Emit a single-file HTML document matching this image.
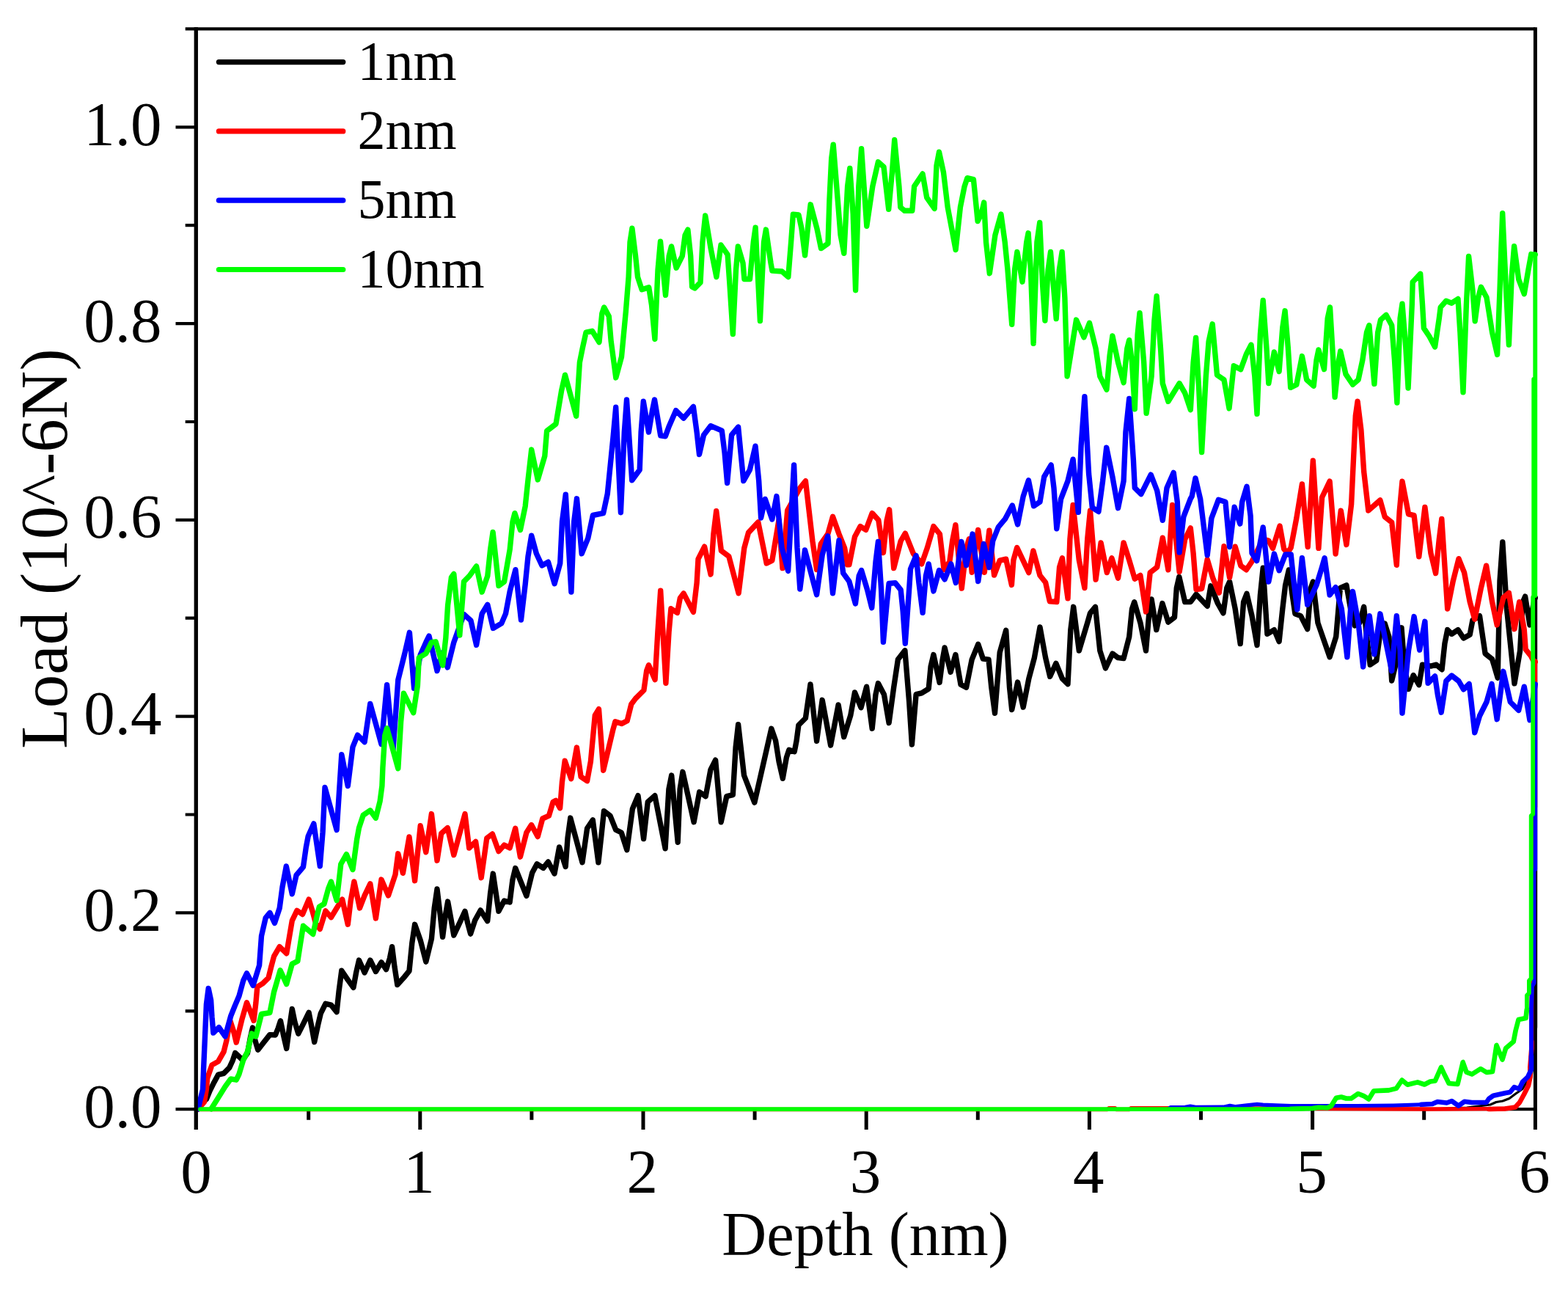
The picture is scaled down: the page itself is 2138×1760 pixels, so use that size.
<!DOCTYPE html>
<html lang="en">
<head>
<meta charset="utf-8">
<title>Load vs Depth</title>
<style>
html,body{margin:0;padding:0;background:#fff;}
body{width:2138px;height:1760px;overflow:hidden;}
svg{display:block;}
text{font-family:"Liberation Serif",serif;fill:#000;}
.tk{font-size:85px;}
.lg{font-size:76px;}
.ax{stroke:#000;fill:none;stroke-linecap:butt;}
.cv{fill:none;stroke-width:7.4;stroke-linejoin:round;stroke-linecap:round;}
.cu{fill:none;stroke-linejoin:round;stroke-linecap:round;}
.ll{fill:none;stroke-width:7.2;stroke-linecap:round;}
</style>
</head>
<body>
<svg width="2138" height="1760" viewBox="0 0 2138 1760">
<rect x="0" y="0" width="2138" height="1760" fill="#ffffff"/>
<g id="axes">
<path class="ax" stroke-width="5.0" d="M267.3 37.3V1514.3M2093.4 37.3V1514.3"/>
<path class="ax" stroke-width="4.2" d="M267.3 39.4H2093.4M267.3 1512.2H2093.4"/>
<path class="ax" stroke-width="4.2" d="M267.3 1512.2h-27.8M267.3 1378.3h-14.6M267.3 1244.4h-27.8M267.3 1110.5h-14.6M267.3 976.6h-27.8M267.3 842.7h-14.6M267.3 708.9h-27.8M267.3 575.0h-14.6M267.3 441.1h-27.8M267.3 307.2h-14.6M267.3 173.3h-27.8M267.3 39.4h-14.6"/>
<path class="ax" stroke-width="5.0" d="M267.3 1512.2v27.8M420.7 1512.2v14.6M572.8 1512.2v27.8M724.9 1512.2v14.6M877.0 1512.2v27.8M1029.1 1512.2v14.6M1181.2 1512.2v27.8M1333.3 1512.2v14.6M1485.4 1512.2v27.8M1637.5 1512.2v14.6M1789.6 1512.2v27.8M1941.7 1512.2v14.6M2093.4 1512.2v27.8"/>
</g>
<g id="curves">
<path class="cv" stroke="#000000" d="M270.2 1511.8 274.7 1504.2 281.4 1498.5 286.1 1487.1 291.8 1475.7 297.5 1465.2 305.1 1463.3 312.7 1455.7 317.5 1445.2 320.7 1435.4 326.0 1440.5 330.8 1445.2 337.5 1435.7 341.3 1414.8 344.5 1401.0 347.9 1418.6 351.7 1431.3 359.3 1421.5 367.9 1410.6 375.5 1411.0 379.3 1401.5 382.5 1391.7 386.9 1412.9 390.7 1429.4 394.5 1401.5 398.3 1375.5 402.1 1393.9 406.8 1409.1 413.5 1395.8 421.1 1380.3 424.9 1399.6 428.7 1420.5 433.5 1397.7 437.3 1381.6 443.9 1368.3 451.5 1370.2 459.1 1379.6 462.0 1352.1 465.8 1323.2 474.3 1335.9 481.9 1346.3 485.7 1325.5 489.5 1309.0 497.1 1326.0 504.8 1309.0 512.4 1324.5 520.0 1311.8 526.6 1321.6 531.4 1306.5 534.6 1290.7 538.0 1317.9 541.8 1342.5 550.4 1333.1 558.0 1323.6 561.8 1285.6 565.6 1260.3 573.2 1281.7 580.8 1311.2 588.4 1279.8 592.2 1238.0 596.0 1212.0 599.8 1243.7 603.6 1277.3 607.4 1247.5 610.6 1229.1 615.0 1253.2 618.8 1275.0 626.4 1258.9 634.0 1242.4 637.8 1258.9 641.6 1273.1 647.6 1254.8 655.2 1240.9 664.7 1255.7 668.5 1218.6 672.3 1191.1 679.9 1242.3 687.5 1228.1 695.1 1230.0 698.9 1199.6 702.7 1183.5 717.9 1221.4 725.6 1190.1 732.2 1177.8 740.8 1183.4 747.4 1175.0 756.0 1191.0 762.6 1155.0 771.2 1181.5 774.0 1142.6 777.8 1115.1 794.0 1175.8 800.6 1129.3 808.3 1117.9 815.9 1175.8 820.6 1133.1 823.5 1105.6 832.0 1112.2 839.6 1131.2 847.2 1135.0 854.8 1158.7 862.4 1102.7 870.0 1084.7 877.6 1143.5 883.3 1093.2 892.9 1084.7 907.1 1156.8 911.9 1076.0 915.7 1057.1 924.2 1148.2 927.1 1076.0 930.9 1052.3 946.1 1120.7 953.7 1079.8 962.2 1085.6 968.9 1049.4 975.6 1036.2 983.2 1120.7 990.8 1085.6 999.3 1083.7 1003.1 1019.0 1006.6 987.6 1014.5 1057.0 1028.8 1094.1 1051.8 993.3 1057.6 1009.8 1062.1 1038.4 1067.3 1061.3 1072.4 1032.7 1075.8 1022.4 1083.2 1024.7 1086.1 1009.8 1088.9 988.5 1098.4 979.0 1105.0 933.0 1113.6 1010.3 1121.2 954.3 1132.6 1016.0 1143.1 961.0 1150.7 1004.6 1159.8 975.2 1165.5 943.9 1174.0 964.7 1181.6 936.2 1189.2 993.2 1194.0 946.7 1197.4 931.5 1205.4 946.7 1212.1 985.6 1218.7 937.1 1224.4 899.1 1233.9 886.8 1239.6 956.2 1243.4 1015.0 1249.1 946.7 1256.7 944.8 1266.2 939.0 1269.1 908.6 1272.9 892.5 1281.1 930.4 1285.2 899.1 1288.1 883.0 1296.1 916.2 1302.9 892.5 1310.0 933.3 1317.6 937.1 1325.2 899.1 1333.7 878.3 1340.4 898.2 1348.0 899.1 1351.8 937.1 1356.5 972.3 1363.2 889.6 1371.7 859.3 1376.5 937.1 1379.7 967.5 1387.6 930.0 1395.2 964.1 1402.8 925.2 1410.4 896.7 1418.0 854.9 1425.6 896.7 1431.7 922.3 1439.9 904.3 1448.4 925.2 1456.0 932.7 1459.8 858.6 1463.7 827.3 1471.3 887.1 1482.7 849.1 1486.5 835.8 1493.5 827.3 1499.8 887.1 1507.4 910.9 1516.9 891.0 1524.5 896.7 1532.1 897.6 1539.7 868.1 1543.5 830.1 1546.7 820.7 1554.9 849.1 1562.5 887.1 1567.3 830.1 1570.1 816.9 1576.8 858.6 1584.9 822.6 1592.9 848.1 1601.5 841.5 1604.3 801.6 1607.8 786.4 1615.7 820.6 1623.3 820.6 1631.0 810.2 1646.2 826.3 1650.9 798.8 1660.4 822.5 1668.0 835.8 1672.8 801.6 1676.6 793.1 1684.2 830.1 1691.2 877.6 1695.6 820.6 1700.0 809.3 1707.0 839.6 1714.0 879.5 1718.4 811.1 1722.2 774.1 1727.9 864.3 1737.4 858.6 1744.1 874.7 1748.8 830.1 1752.6 797.8 1757.4 776.9 1762.1 811.1 1765.9 836.8 1773.5 839.6 1782.7 857.6 1787.4 801.6 1790.3 793.1 1796.9 849.1 1813.1 895.7 1821.7 868.1 1827.4 801.6 1835.9 797.8 1841.6 830.1 1847.3 852.9 1854.0 849.1 1859.7 827.3 1863.5 868.1 1868.2 906.2 1876.8 900.5 1882.5 858.6 1888.2 850.1 1893.9 868.1 1897.7 928.0 1905.3 896.7 1911.0 855.8 1914.8 906.2 1920.5 939.4 1927.2 920.5 1934.8 933.7 1939.5 906.2 1950.9 908.1 1958.5 906.2 1966.1 912.8 1969.9 877.6 1973.7 858.6 1979.4 864.3 1988.0 858.6 1995.6 870.0 2004.2 865.3 2008.0 845.3 2017.5 839.6 2025.1 891.0 2034.6 898.6 2042.2 924.2 2045.0 792.1 2048.8 738.9 2054.5 830.1 2065.0 931.8 2072.6 887.1 2076.4 820.6 2079.6 813.1 2085.9 851.9 2089.7 830.1 2092.6 814.9 2093.3 815.0"/>
<path class="cu" stroke="#000000" stroke-width="5.8" d="M2093.3 815.0 2093.3 1400.0 2090.0 1440.0 2087.0 1466.0"/>
<path class="cu" stroke="#000000" stroke-width="3.2" d="M2087.0 1466.0 2076.0 1484.5 2066.0 1491.5 2058.0 1497.5 2049.0 1501.0 2040.0 1502.5 2032.0 1506.0 2000.0 1510.0 1950.0 1512.0 273.0 1512.5"/>
<path class="cv" stroke="#ff0000" d="M270.2 1511.8 278.5 1502.3 281.4 1485.2 282.7 1470.0 289.0 1451.9 297.5 1447.1 305.1 1433.8 308.9 1418.6 313.7 1391.1 318.4 1405.3 322.2 1421.1 329.8 1390.1 336.5 1366.8 341.3 1378.7 346.0 1391.4 348.9 1367.3 350.8 1345.4 358.4 1340.7 366.0 1333.1 369.8 1317.9 373.6 1303.6 381.2 1290.7 390.7 1299.8 395.4 1272.2 398.3 1255.1 404.9 1241.3 412.5 1246.5 421.1 1226.1 425.9 1241.8 430.6 1258.9 436.3 1266.5 443.9 1241.9 451.5 1250.7 459.1 1238.0 466.7 1226.1 474.3 1260.2 478.1 1228.5 482.9 1202.0 490.5 1238.0 497.1 1220.9 504.8 1204.8 512.4 1251.9 520.0 1199.1 529.5 1220.9 539.0 1192.4 542.8 1163.8 549.4 1190.3 558.0 1141.0 565.6 1200.7 573.2 1125.8 580.8 1161.8 588.4 1109.6 596.0 1173.2 601.7 1136.2 610.3 1128.6 618.8 1165.6 634.0 1109.6 639.7 1156.1 648.6 1147.4 656.2 1196.7 663.8 1142.6 671.4 1136.9 679.9 1160.6 687.5 1152.1 695.1 1155.9 702.7 1129.3 709.4 1168.2 717.9 1135.0 724.6 1124.6 733.2 1140.6 739.8 1116.0 748.4 1112.2 754.1 1093.2 757.9 1091.3 763.6 1101.7 766.4 1066.5 770.2 1037.1 778.8 1061.7 786.4 1019.1 792.1 1058.9 800.6 1064.6 805.4 1038.0 811.3 975.2 816.5 966.7 822.7 1050.2 836.0 994.2 838.9 983.7 847.5 986.6 855.1 982.8 860.8 960.0 866.5 952.4 877.9 941.0 881.7 914.3 884.5 906.8 893.1 926.6 896.9 861.1 900.7 805.1 907.9 931.4 912.1 861.1 914.9 829.8 923.5 835.4 927.3 815.5 932.1 808.9 945.4 834.4 950.1 794.6 952.0 762.2 960.6 745.2 969.1 783.1 972.9 728.0 976.7 696.7 983.4 750.8 993.8 758.4 1007.1 808.8 1014.8 747.0 1020.5 726.1 1033.8 711.9 1045.2 767.9 1052.8 764.1 1062.0 709.0 1067.0 774.6 1073.7 695.7 1090.8 665.2 1098.4 655.7 1107.9 737.5 1113.6 776.5 1119.3 741.3 1128.8 728.0 1135.5 704.3 1144.0 728.0 1151.6 747.0 1155.4 769.8 1157.9 769.8 1165.5 731.8 1173.1 717.6 1180.7 722.3 1189.2 699.6 1197.8 709.0 1204.4 753.6 1209.2 709.0 1212.6 694.8 1218.7 774.6 1228.2 737.5 1234.3 727.1 1245.3 754.6 1256.7 768.8 1264.3 747.0 1272.9 717.6 1281.4 728.0 1287.1 776.5 1294.8 766.0 1298.6 737.5 1302.9 715.7 1311.3 802.1 1317.6 747.0 1321.4 734.7 1325.2 780.3 1333.7 722.4 1342.3 780.3 1348.9 723.3 1355.6 784.1 1363.2 764.1 1371.7 762.2 1379.4 797.4 1381.9 763.6 1386.7 746.5 1402.8 780.6 1408.9 750.9 1418.0 784.5 1425.6 794.0 1431.3 819.7 1440.8 820.6 1444.6 773.1 1448.4 760.8 1456.0 815.8 1458.9 735.1 1463.1 688.5 1471.3 763.6 1478.9 801.5 1482.7 735.1 1486.5 696.1 1494.1 790.1 1501.1 739.9 1509.3 780.6 1515.9 760.8 1524.5 788.2 1532.1 739.9 1539.7 763.6 1547.3 789.2 1554.9 784.5 1562.5 833.9 1568.2 780.7 1577.7 773.1 1585.3 733.2 1592.9 776.8 1598.6 688.5 1608.1 779.7 1615.7 735.1 1623.3 719.9 1627.1 754.1 1631.0 803.5 1638.6 802.5 1646.2 762.7 1653.8 788.3 1662.3 808.2 1669.0 744.6 1676.6 787.3 1684.2 745.2 1691.8 771.2 1699.4 776.8 1707.0 765.5 1714.6 750.3 1722.2 735.1 1729.8 737.0 1735.5 747.4 1745.0 717.0 1750.7 748.4 1755.5 754.1 1760.2 746.5 1767.8 706.5 1775.4 660.0 1783.2 745.5 1787.4 678.0 1790.3 628.0 1797.9 747.4 1802.6 678.0 1813.1 656.2 1821.1 755.0 1828.3 696.1 1835.9 742.6 1842.6 687.5 1848.3 567.1 1851.1 547.2 1855.9 586.2 1859.7 643.2 1865.8 696.0 1881.9 681.9 1888.2 704.6 1897.7 712.2 1904.3 770.2 1908.2 697.0 1912.0 656.2 1920.5 700.8 1928.1 702.7 1934.8 758.8 1942.9 691.4 1950.9 754.1 1957.6 781.6 1962.3 735.1 1965.8 707.5 1973.7 830.1 1981.3 792.1 1989.0 761.7 1996.6 780.7 2004.2 820.6 2010.8 844.3 2019.4 801.6 2026.6 771.2 2034.6 820.6 2041.2 851.9 2049.8 814.9 2057.4 808.3 2065.0 857.6 2071.7 820.7 2078.3 858.6 2080.2 885.2 2087.8 894.8 2091.6 902.4 2093.3 902.0"/>
<path class="cu" stroke="#ff0000" stroke-width="5.8" d="M2093.3 902.0 2093.3 1100.0 2091.0 1103.0 2091.0 1300.0 2088.5 1304.0 2088.3 1430.0"/>
<path class="cu" stroke="#ff0000" stroke-width="6.6" d="M2088.3 1420.0 2088.3 1430.0 2086.3 1455.0 2086.6 1468.0 2084.0 1480.0 2078.0 1492.0 2072.0 1503.0 2066.0 1509.5 2052.0 1511.5 2030.0 1512.0"/>
<path class="cu" stroke="#ff0000" stroke-width="5.4" d="M2052.0 1511.5 1950.0 1512.0 1600.0 1510.6 1542.0 1510.6 1540.0 1512.5 1522.0 1512.5 1520.4 1510.6 1512.0 1510.6 1510.0 1512.5 273.0 1512.5"/>
<path class="cv" stroke="#0000ff" d="M270.2 1511.8 272.8 1500.4 276.6 1485.2 277.6 1456.7 279.5 1412.9 281.4 1369.2 284.2 1347.4 287.6 1363.5 289.0 1386.3 290.9 1408.1 298.5 1400.6 307.0 1412.9 314.6 1385.4 320.3 1371.1 326.0 1357.8 331.7 1336.9 336.5 1326.9 345.1 1343.5 353.6 1316.0 356.5 1276.0 362.2 1251.3 367.9 1244.3 374.5 1258.3 381.2 1238.0 385.0 1209.5 390.3 1180.9 398.3 1218.8 404.0 1193.2 413.5 1181.8 417.3 1155.2 420.2 1140.0 427.8 1122.9 436.3 1180.8 440.1 1134.3 443.0 1073.5 459.1 1131.4 465.8 1028.8 474.3 1071.5 481.0 1018.3 487.6 1002.2 497.1 1011.6 504.8 959.4 520.0 1014.4 527.6 933.7 536.1 1021.1 542.8 927.0 552.3 889.0 558.4 862.3 564.6 938.4 573.2 892.8 580.8 875.7 585.0 867.0 596.0 914.6 602.7 890.0 610.3 909.9 618.8 875.7 632.5 837.6 642.0 846.1 649.6 879.3 657.2 836.6 664.8 824.3 672.4 856.5 683.8 849.9 689.5 836.6 695.2 806.2 702.9 776.7 710.5 845.1 716.2 796.7 720.0 758.6 724.7 730.2 731.4 754.8 739.0 771.0 747.5 766.2 756.1 795.7 763.7 768.1 766.5 711.1 771.3 674.1 778.9 807.1 782.7 711.1 786.5 679.8 793.2 754.8 801.7 733.9 808.4 702.5 822.6 699.7 828.3 673.1 832.1 635.1 835.9 597.0 839.7 555.3 846.4 698.7 851.3 589.1 854.5 544.9 861.7 654.7 872.2 640.5 874.1 589.1 877.3 547.3 884.5 589.1 889.3 560.6 892.5 544.9 900.7 593.9 907.3 594.8 912.1 581.5 921.6 559.7 932.1 570.1 945.4 554.4 950.1 589.1 953.5 619.5 959.6 592.9 969.1 580.6 984.3 587.2 988.1 617.6 991.6 658.5 997.6 592.9 1006.6 582.1 1011.0 627.1 1013.8 655.6 1022.4 640.5 1030.0 608.2 1034.7 655.7 1037.6 706.0 1043.3 680.4 1052.8 708.0 1058.9 676.6 1066.1 747.0 1074.6 778.4 1082.6 633.9 1087.0 747.0 1090.8 803.1 1097.5 749.9 1113.6 810.7 1121.2 756.5 1128.8 730.9 1135.5 808.8 1144.0 736.6 1149.7 781.3 1157.9 792.7 1166.4 823.0 1171.2 785.1 1174.6 777.5 1182.6 804.1 1188.7 828.7 1194.0 766.0 1197.4 738.5 1201.6 804.1 1204.4 875.3 1209.2 823.1 1212.1 795.5 1220.6 794.6 1228.2 804.1 1231.1 832.6 1234.3 877.2 1239.6 804.1 1241.5 775.6 1249.1 757.5 1252.9 794.6 1258.1 835.4 1262.4 785.1 1266.2 768.9 1272.9 805.9 1280.5 777.5 1288.1 789.8 1296.7 768.9 1303.3 794.5 1308.1 756.5 1310.9 738.5 1317.6 770.7 1326.1 728.1 1333.7 792.6 1341.3 741.4 1348.9 773.6 1353.7 737.5 1361.3 718.5 1370.8 707.1 1380.3 689.1 1387.6 715.0 1395.2 676.6 1402.4 654.8 1409.5 689.8 1418.0 684.2 1423.7 650.0 1433.2 633.9 1437.0 665.2 1440.8 720.7 1446.5 680.4 1456.0 655.7 1463.1 626.2 1470.3 698.4 1474.1 608.1 1478.9 540.7 1484.6 646.2 1489.3 691.8 1497.9 697.5 1503.6 655.7 1508.7 610.1 1516.9 650.0 1524.5 692.7 1532.1 655.7 1534.9 589.1 1539.7 543.5 1545.4 627.1 1547.3 665.2 1555.9 673.7 1569.2 647.2 1577.7 669.0 1585.3 709.3 1591.0 665.2 1600.2 644.3 1605.3 684.2 1608.1 753.1 1613.8 704.6 1623.3 679.9 1625.2 676.6 1630.0 651.9 1636.7 680.4 1646.2 756.9 1651.9 706.5 1661.4 681.3 1670.9 684.2 1676.6 745.5 1683.2 691.8 1683.2 691.3 1690.8 714.1 1693.7 684.2 1700.0 663.3 1705.1 703.2 1707.0 754.1 1713.7 764.5 1722.2 718.9 1729.8 793.0 1737.4 755.1 1744.1 777.8 1752.6 756.0 1760.2 756.0 1764.0 792.1 1768.8 831.0 1775.4 760.8 1782.7 824.4 1795.0 797.8 1802.6 773.1 1806.1 760.8 1813.1 811.1 1821.1 800.7 1829.3 830.1 1836.9 895.7 1841.6 830.1 1844.5 806.4 1852.1 849.1 1858.7 909.0 1863.5 858.6 1867.3 839.7 1873.9 891.9 1881.9 836.8 1890.1 877.6 1897.7 914.7 1904.3 839.7 1909.1 887.1 1912.0 972.2 1920.5 887.1 1928.1 840.6 1935.7 886.1 1942.9 847.3 1947.1 931.3 1956.6 921.9 1960.4 947.5 1965.2 971.2 1971.8 928.5 1979.4 921.0 1989.0 928.5 1995.6 939.9 2003.2 932.4 2006.1 957.0 2010.8 998.8 2017.5 976.0 2027.0 957.0 2034.0 932.4 2041.2 980.7 2049.8 915.3 2059.3 957.0 2070.7 968.4 2078.3 936.2 2085.9 981.7 2093.3 933.0"/>
<path class="cu" stroke="#0000ff" stroke-width="5.8" d="M2093.3 933.0 2093.3 1185.0 2091.6 1187.0 2091.6 1340.0 2089.0 1345.0 2088.0 1375.0 2088.0 1458.0"/>
<path class="cu" stroke="#0000ff" stroke-width="6.6" d="M2088.0 1440.0 2088.0 1458.0 2083.0 1468.4 2076.0 1475.0 2071.6 1484.5 2064.7 1482.0 2059.0 1489.0 2053.0 1490.0 2036.0 1493.7 2030.0 1498.0 2026.7 1503.0 2007.0 1503.0 1996.8 1501.8 1988.7 1507.5 1979.5 1501.0 1972.6 1503.5 1960.0 1502.0 1953.0 1505.0 1938.0 1505.8"/>
<path class="cu" stroke="#0000ff" stroke-width="5.2" d="M1953.0 1505.0 1938.0 1505.8 1900.0 1507.0 1850.0 1507.5 1790.0 1507.5 1760.0 1507.5 1740.0 1506.8 1722.0 1506.2 1714.0 1505.3 1700.0 1506.8 1685.0 1508.7 1677.0 1507.3 1668.0 1509.2 1630.0 1509.3 1623.0 1508.0 1616.0 1509.4 1596.0 1509.6 1592.0 1512.5 273.0 1512.5"/>
<path class="cv" stroke="#00ff00" d="M288.0 1511.8 297.5 1496.6 307.0 1481.4 314.6 1470.9 322.2 1472.2 326.0 1464.3 331.7 1445.2 337.5 1433.8 343.2 1409.1 348.9 1412.9 356.5 1382.5 367.9 1380.6 373.6 1352.1 382.1 1322.7 390.7 1341.6 398.3 1314.1 405.9 1310.3 409.7 1285.6 413.5 1262.2 426.8 1273.5 432.5 1247.5 435.4 1236.1 442.0 1232.3 447.7 1211.4 451.5 1202.0 459.1 1227.5 464.8 1178.0 472.4 1164.7 481.0 1185.5 486.7 1143.8 489.5 1128.6 495.2 1111.4 504.8 1104.8 512.4 1115.2 518.1 1092.4 520.9 1071.5 521.9 1046.8 524.7 1003.1 527.6 992.7 542.8 1047.7 546.6 984.1 550.4 945.1 563.7 971.7 569.4 934.6 571.3 896.6 580.8 890.9 588.4 875.7 594.1 874.8 603.6 907.0 607.8 870.0 610.6 825.2 615.4 787.1 618.8 782.4 626.8 866.0 632.5 792.9 640.1 785.2 649.6 772.0 657.2 807.1 664.8 785.2 668.6 749.1 672.1 725.4 680.0 798.5 687.6 792.9 695.2 749.1 699.0 711.1 701.9 699.7 709.5 722.5 716.2 690.2 720.0 654.1 724.7 612.9 733.3 654.0 742.8 621.7 745.6 587.5 758.0 578.0 765.7 532.1 770.5 511.2 785.7 567.2 790.4 494.1 794.2 475.1 799.0 453.2 807.5 451.3 817.0 466.5 820.8 427.5 823.7 419.0 830.3 431.3 833.2 465.6 839.8 514.9 847.5 486.5 853.3 425.2 857.1 377.6 859.0 330.1 861.9 311.2 866.6 349.1 869.5 377.6 875.2 394.8 884.7 391.9 888.5 415.7 892.9 462.2 897.0 368.1 900.5 329.2 907.5 402.3 912.2 349.1 915.5 335.9 922.1 365.2 930.3 349.1 934.1 320.6 937.9 313.1 941.7 349.1 943.6 391.0 947.4 392.9 955.0 385.2 957.9 330.1 961.7 294.0 969.3 339.6 976.9 377.6 983.0 334.0 992.1 347.2 994.9 387.1 999.3 455.5 1003.5 368.1 1006.3 335.9 1013.0 358.6 1014.9 380.5 1022.5 380.5 1027.3 330.1 1030.1 310.2 1036.4 437.5 1041.5 330.1 1044.4 313.1 1051.0 358.6 1052.9 369.1 1066.2 370.0 1074.8 377.6 1078.6 330.1 1081.4 292.1 1089.0 293.0 1092.9 311.1 1097.6 348.1 1102.4 301.6 1105.2 278.8 1113.8 311.1 1119.5 338.6 1129.0 332.0 1130.9 273.1 1133.7 216.0 1136.2 197.1 1142.3 273.1 1146.1 320.6 1150.8 345.3 1155.6 254.1 1158.8 229.4 1163.2 292.1 1166.6 395.7 1170.8 254.1 1174.6 202.8 1181.8 308.2 1189.8 254.1 1197.4 220.8 1205.0 227.5 1211.7 285.4 1216.4 235.1 1219.7 190.8 1225.9 254.1 1227.8 282.6 1233.5 287.3 1243.8 287.3 1246.6 254.1 1258.0 237.0 1263.7 269.3 1274.2 284.4 1277.0 225.6 1280.5 207.2 1286.5 235.1 1292.2 282.6 1303.1 340.5 1309.4 282.6 1315.1 254.1 1318.9 242.7 1327.4 244.6 1330.3 273.1 1333.1 301.5 1337.9 292.1 1341.7 276.0 1344.5 330.1 1349.3 372.8 1356.9 320.6 1364.9 292.1 1370.2 330.1 1374.0 368.1 1379.7 442.2 1383.5 368.1 1386.9 343.5 1394.0 384.2 1399.7 330.1 1402.1 317.8 1405.4 368.1 1409.1 468.4 1413.9 330.1 1417.7 303.5 1421.5 387.1 1424.9 437.1 1429.1 368.1 1432.5 343.5 1440.2 434.6 1444.3 368.1 1448.1 343.5 1451.9 406.2 1455.1 513.0 1467.5 436.1 1477.9 459.8 1485.5 440.3 1494.1 475.1 1499.8 513.1 1508.9 531.1 1513.1 484.6 1516.9 458.0 1524.5 494.1 1532.1 521.6 1536.8 475.1 1539.7 463.7 1543.5 494.1 1547.3 557.7 1551.1 456.0 1554.0 426.6 1559.7 494.1 1563.1 563.4 1570.1 513.1 1573.9 437.0 1577.1 403.8 1582.5 475.1 1585.3 522.6 1592.9 547.3 1608.1 522.6 1615.7 535.9 1623.3 558.7 1627.1 494.1 1630.6 460.5 1634.8 532.1 1638.6 616.6 1644.3 513.1 1648.1 465.6 1653.2 441.8 1659.5 511.2 1669.0 517.8 1676.0 556.8 1682.3 498.8 1691.8 503.6 1699.4 482.7 1706.0 470.0 1710.8 513.1 1714.0 564.4 1718.4 456.0 1722.2 409.5 1727.0 475.1 1729.8 522.5 1737.4 479.9 1744.1 506.4 1748.8 446.5 1752.1 423.8 1756.4 475.1 1759.7 528.3 1767.8 524.5 1775.4 485.6 1781.7 517.7 1791.2 526.2 1795.0 491.1 1797.9 476.9 1805.5 503.4 1810.2 434.1 1813.5 418.9 1817.8 491.1 1820.1 541.4 1825.5 491.1 1827.7 478.8 1835.0 510.1 1844.5 524.3 1852.1 517.7 1857.8 491.1 1863.5 453.1 1866.9 443.6 1871.1 491.1 1873.9 523.4 1878.7 453.1 1882.5 436.0 1890.1 429.4 1897.7 443.6 1901.5 491.1 1904.9 549.0 1909.1 434.1 1912.0 414.2 1916.7 472.1 1920.1 529.1 1925.3 415.1 1926.2 384.6 1936.7 373.3 1939.5 415.1 1941.4 447.4 1949.0 458.8 1956.6 473.0 1962.3 434.1 1964.2 418.9 1971.8 410.3 1979.4 413.2 1988.0 407.5 1990.9 453.1 1995.0 534.8 1999.4 415.1 2002.6 349.5 2008.0 396.0 2011.2 437.8 2015.6 405.6 2019.4 391.3 2027.0 405.6 2034.6 453.1 2041.6 483.4 2045.0 396.0 2046.9 339.0 2048.7 290.6 2053.6 396.0 2057.4 470.1 2061.2 377.0 2064.6 335.8 2070.7 380.8 2078.3 400.7 2084.0 367.5 2087.8 346.6 2093.1 347.6 2093.3 347.0"/>
<path class="cu" stroke="#00ff00" stroke-width="5.8" d="M2093.3 347.0 2093.3 812.0"/>
<path class="cu" stroke="#00ff00" stroke-width="5.8" d="M2091.2 517.0 2091.2 812.0 2090.2 814.0 2090.2 1110.0 2087.7 1112.0 2087.7 1334.0 2084.9 1337.0 2084.9 1354.0 2081.9 1357.0 2081.9 1376.0 2080.5 1388.0"/>
<path class="cu" stroke="#00ff00" stroke-width="6.6" d="M2081.9 1376.0 2080.5 1388.0 2070.5 1390.0 2066.6 1405.0 2063.7 1420.0 2053.2 1429.0 2048.5 1444.5 2040.5 1425.0 2035.0 1461.0 2027.0 1462.0 2018.9 1457.0 2007.0 1464.5 1999.5 1461.7 1994.7 1448.0 1987.5 1478.0 1975.6 1477.0 1969.6 1465.1 1965.0 1455.0 1956.8 1473.6 1950.0 1474.5 1942.3 1478.5 1932.9 1475.4 1919.2 1478.8 1911.6 1472.5 1903.9 1483.9 1893.6 1486.4 1873.2 1487.3 1866.3 1498.5 1859.5 1494.1 1851.8 1491.0 1842.4 1497.5 1835.6 1497.5 1828.8 1495.5 1821.9 1496.7 1815.1 1507.8 1810.0 1510.3 1798.0 1509.8 1789.5 1511.0 1760.0 1511.8"/>
<path class="cu" stroke="#00ff00" stroke-width="5.8" d="M1789.5 1511.0 1760.0 1511.8 1700.0 1512.2 273.0 1512.2"/>
</g>
<path class="ax" stroke-width="5.0" d="M267.3 37.3V1540.0"/>
<g id="ticklabels">
<text class="tk" x="220.5" y="1536.6" text-anchor="end">0.0</text>
<text class="tk" x="220.5" y="1268.8" text-anchor="end">0.2</text>
<text class="tk" x="220.5" y="1001.0" text-anchor="end">0.4</text>
<text class="tk" x="220.5" y="733.3" text-anchor="end">0.6</text>
<text class="tk" x="220.5" y="465.5" text-anchor="end">0.8</text>
<text class="tk" x="220.5" y="197.7" text-anchor="end">1.0</text>
<text class="tk" x="267.6" y="1626" text-anchor="middle">0</text>
<text class="tk" x="571.6" y="1626" text-anchor="middle">1</text>
<text class="tk" x="875.8" y="1626" text-anchor="middle">2</text>
<text class="tk" x="1180.0" y="1626" text-anchor="middle">3</text>
<text class="tk" x="1484.2" y="1626" text-anchor="middle">4</text>
<text class="tk" x="1788.4" y="1626" text-anchor="middle">5</text>
<text class="tk" x="2092.2" y="1626" text-anchor="middle">6</text>
</g>
<text x="1180" y="1710.5" text-anchor="middle" style="font-size:84.4px">Depth (nm)</text>
<text transform="translate(90.5 748) rotate(-90)" text-anchor="middle" style="font-size:91px">Load (10^-6N)</text>
<g id="legend">
<path class="ll" stroke="#000000" d="M298.4 84.6H467.8"/>
<text class="lg" x="487.5" y="108.8">1nm</text>
<path class="ll" stroke="#ff0000" d="M298.4 178.9H467.8"/>
<text class="lg" x="487.5" y="203.1">2nm</text>
<path class="ll" stroke="#0000ff" d="M298.4 273.2H467.8"/>
<text class="lg" x="487.5" y="297.4">5nm</text>
<path class="ll" stroke="#00ff00" d="M298.4 367.5H467.8"/>
<text class="lg" x="487.5" y="391.7">10nm</text>
</g>
</svg>
</body>
</html>
